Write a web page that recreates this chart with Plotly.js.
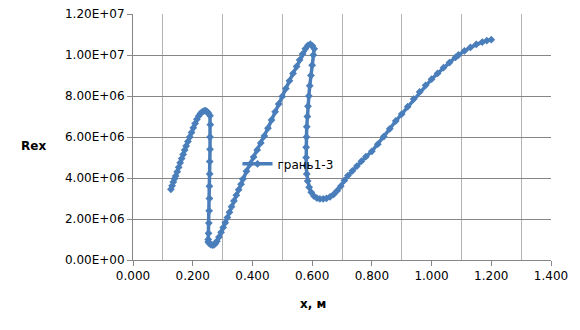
<!DOCTYPE html>
<html>
<head>
<meta charset="utf-8">
<script src="https://cdn.plot.ly/plotly-3.0.1.min.js"></script>
<style>html,body{margin:0;padding:0;background:#fff;}#chart{width:580px;height:330px;}</style>
</head>
<body>
<div id="chart"></div>
<script>
// Data (x in m, Rex)
var seriesName = "грань1-3";
var xValues = [
  0.127,0.131,0.135,0.139,0.143,0.148,0.153,0.158,0.163,0.168,0.173,0.178,0.184,0.190,0.196,0.202,0.208,0.214,0.220,0.226,0.232,0.238,0.243,0.248,0.253,0.258,
  0.259,0.258,0.258,0.257,0.257,0.256,0.256,0.255,0.254,0.253,0.252,0.252,
  0.256,0.261,0.266,0.271,0.276,
  0.281,0.288,0.295,0.302,0.309,0.316,0.323,0.330,0.338,0.346,0.354,0.362,0.368,0.380,0.392,
  0.404,0.416,0.428,0.440,0.452,0.464,0.476,0.488,0.500,0.512,0.524,0.536,0.548,0.558,0.568,0.577,0.586,0.594,0.601,0.607,
  0.604,0.600,0.596,0.592,0.589,0.586,0.584,0.582,0.581,0.580,0.580,0.580,0.582,0.585,0.590,0.597,0.606,0.616,0.626,0.637,0.648,0.660,0.672,0.684,0.696,0.708,
  0.720,0.735,0.750,0.765,0.780,0.800,0.820,0.840,0.860,0.880,0.900,0.920,0.940,0.960,0.980,1.000,1.020,1.040,1.060,1.080,1.090,1.110,1.130,1.150,1.170,1.185,1.200
];
var rexValues = [
  3.45e6,3.62e6,3.80e6,3.96e6,4.10e6,4.30e6,4.52e6,4.74e6,4.95e6,5.15e6,5.36e6,5.56e6,5.78e6,6.00e6,6.22e6,6.45e6,6.66e6,6.86e6,7.02e6,7.15e6,7.23e6,7.27e6,7.28e6,7.24e6,7.16e6,7.04e6,
  6.6e6,6.0e6,5.4e6,4.8e6,4.2e6,3.6e6,3.0e6,2.4e6,1.8e6,1.3e6,1.0e6,0.88e6,
  0.80e6,0.75e6,0.73e6,0.74e6,0.80e6,
  0.92e6,1.12e6,1.35e6,1.58e6,1.82e6,2.07e6,2.33e6,2.60e6,2.88e6,3.16e6,3.43e6,3.70e6,3.95e6,4.33e6,4.68e6,
  5.02e6,5.37e6,5.71e6,6.05e6,6.43e6,6.83e6,7.23e6,7.61e6,7.98e6,8.36e6,8.74e6,9.1e6,9.44e6,9.76e6,10.05e6,10.3e6,10.47e6,10.53e6,10.45e6,10.3e6,
  10.0e6,9.5e6,9.0e6,8.5e6,8.0e6,7.5e6,7.0e6,6.5e6,6.0e6,5.5e6,5.0e6,4.6e6,4.2e6,3.85e6,3.55e6,3.3e6,3.12e6,3.02e6,2.98e6,2.98e6,3.01e6,3.08e6,3.2e6,3.38e6,3.6e6,3.88e6,
  4.12e6,4.35e6,4.58e6,4.82e6,5.04e6,5.3e6,5.65e6,6.02e6,6.4e6,6.78e6,7.12e6,7.48e6,7.85e6,8.2e6,8.52e6,8.82e6,9.1e6,9.38e6,9.63e6,9.88e6,10.0e6,10.2e6,10.37e6,10.52e6,10.63e6,10.7e6,10.75e6
];
var yTickValues = [0, 2e6, 4e6, 6e6, 8e6, 10e6, 12e6];
var yTickLabels = ["0.00E+00","2.00E+06","4.00E+06","6.00E+06","8.00E+06","1.00E+07","1.20E+07"];
var xTitle = "x, м";
var yTitle = "Rex";

var blue = "#4a7ebb";
var trace = {
  x: xValues, y: rexValues, name: seriesName,
  type: "scatter", mode: "lines+markers",
  line: {color: blue, width: 3.5},
  marker: {symbol: "diamond", size: 6, color: blue},
  showlegend: true
};
var font = {family: "DejaVu Sans, Verdana, sans-serif", size: 12, color: "#000"};
var layout = {
  width: 580, height: 330,
  margin: {l: 133, r: 29, t: 14, b: 70},
  paper_bgcolor: "#fff", plot_bgcolor: "#fff",
  font: font,
  showlegend: true,
  legend: {x: 0.25, y: 0.391, xanchor: "left", yanchor: "middle", bgcolor: "rgba(0,0,0,0)", borderwidth: 0, font: font},
  xaxis: {
    range: [0, 1.4], tickmode: "linear", tick0: 0, dtick: 0.2, tickformat: ".3f",
    showgrid: false, zeroline: false, showline: true, linecolor: "#868686", linewidth: 1,
    ticks: "outside", ticklen: 5, tickcolor: "#868686", tickfont: font,
    minor: {tickmode: "linear", tick0: 0.1, dtick: 0.2, showgrid: true, gridcolor: "#b3b3b3", gridwidth: 1, ticks: ""}
  },
  yaxis: {
    range: [0, 1.2e7], tickmode: "array", tickvals: yTickValues, ticktext: yTickLabels,
    showgrid: true, gridcolor: "#868686", gridwidth: 1, zeroline: false,
    showline: true, linecolor: "#868686", linewidth: 1,
    ticks: "outside", ticklen: 5, tickcolor: "#868686", tickfont: font
  },
  annotations: [
    {text: "<b>" + yTitle + "</b>", xref: "paper", yref: "paper", x: -0.238, y: 0.464, xanchor: "center", yanchor: "middle", showarrow: false, font: font},
    {text: "<b>" + xTitle + "</b>", xref: "paper", yref: "paper", x: 0.43, y: -0.18, xanchor: "center", yanchor: "middle", showarrow: false, font: font}
  ]
};
Plotly.newPlot("chart", [trace], layout, {displayModeBar: false, staticPlot: true});
</script>
</body>
</html>
